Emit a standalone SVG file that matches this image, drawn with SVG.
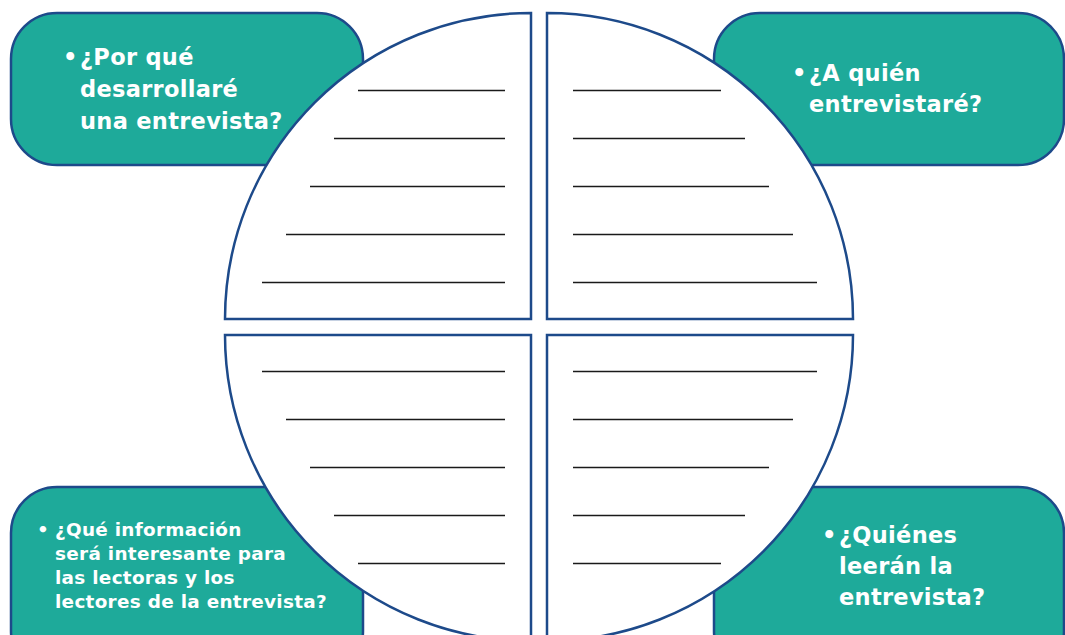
<svg xmlns="http://www.w3.org/2000/svg" width="1065" height="635" viewBox="0 0 1065 635">
<style>
.box{fill:#1eaa9a;stroke:#1d4a8a;stroke-width:2.5}
.q{fill:#fff;stroke:#1d4a8a;stroke-width:2.5}
.ln{stroke:#1a1a1a;stroke-width:1.3}
.t{font-family:"DejaVu Sans","Open Sans",sans-serif;font-weight:700;fill:#fff}
.big{font-size:22.5px;letter-spacing:0.3px}
.sm{font-size:18.4px;letter-spacing:0.3px}
</style>
<rect width="1065" height="635" fill="#fff"/>
<g id="box-tl">
<rect class="box" x="11" y="13" width="352" height="152" rx="46"/>
<text class="t big"><tspan x="63" y="65">•</tspan><tspan x="80" y="65">¿Por qué</tspan><tspan x="80" y="97">desarrollaré</tspan><tspan x="80" y="129">una entrevista?</tspan></text>
</g>
<g id="box-tr">
<rect class="box" x="714" y="13" width="350" height="152" rx="46"/>
<text class="t big"><tspan x="792" y="81">•</tspan><tspan x="809" y="81">¿A quién</tspan><tspan x="809" y="112">entrevistaré?</tspan></text>
</g>
<g id="box-bl">
<rect class="box" x="11" y="487" width="352" height="190" rx="46"/>
<text class="t sm"><tspan x="37" y="536">•</tspan><tspan x="55" y="536">¿Qué información</tspan><tspan x="55" y="560">será interesante para</tspan><tspan x="55" y="584">las lectoras y los</tspan><tspan x="55" y="608">lectores de la entrevista?</tspan></text>
</g>
<g id="box-br">
<rect class="box" x="714" y="487" width="350" height="190" rx="46"/>
<text class="t big"><tspan x="822" y="543">•</tspan><tspan x="839" y="543">¿Quiénes</tspan><tspan x="839" y="574">leerán la</tspan><tspan x="839" y="605">entrevista?</tspan></text>
</g>
<g id="quad-tl">
<path class="q" d="M531 319 L225 319 A306 306 0 0 1 531 13 Z"/>
<g class="ln"><line x1="358" y1="90.5" x2="505" y2="90.5"/><line x1="334" y1="138.5" x2="505" y2="138.5"/><line x1="310" y1="186.5" x2="505" y2="186.5"/><line x1="286" y1="234.5" x2="505" y2="234.5"/><line x1="262" y1="282.5" x2="505" y2="282.5"/></g>
</g>
<g id="quad-tr">
<path class="q" d="M547 319 L547 13 A306 306 0 0 1 853 319 Z"/>
<g class="ln"><line x1="573" y1="90.5" x2="721" y2="90.5"/><line x1="573" y1="138.5" x2="745" y2="138.5"/><line x1="573" y1="186.5" x2="769" y2="186.5"/><line x1="573" y1="234.5" x2="793" y2="234.5"/><line x1="573" y1="282.5" x2="817" y2="282.5"/></g>
</g>
<g id="quad-bl">
<path class="q" d="M531 335 L531 641 A306 306 0 0 1 225 335 Z"/>
<g class="ln"><line x1="262" y1="371.5" x2="505" y2="371.5"/><line x1="286" y1="419.5" x2="505" y2="419.5"/><line x1="310" y1="467.5" x2="505" y2="467.5"/><line x1="334" y1="515.5" x2="505" y2="515.5"/><line x1="358" y1="563.5" x2="505" y2="563.5"/></g>
</g>
<g id="quad-br">
<path class="q" d="M547 335 L853 335 A306 306 0 0 1 547 641 Z"/>
<g class="ln"><line x1="573" y1="371.5" x2="817" y2="371.5"/><line x1="573" y1="419.5" x2="793" y2="419.5"/><line x1="573" y1="467.5" x2="769" y2="467.5"/><line x1="573" y1="515.5" x2="745" y2="515.5"/><line x1="573" y1="563.5" x2="721" y2="563.5"/></g>
</g>
<g id="connectors"></g>
</svg>
